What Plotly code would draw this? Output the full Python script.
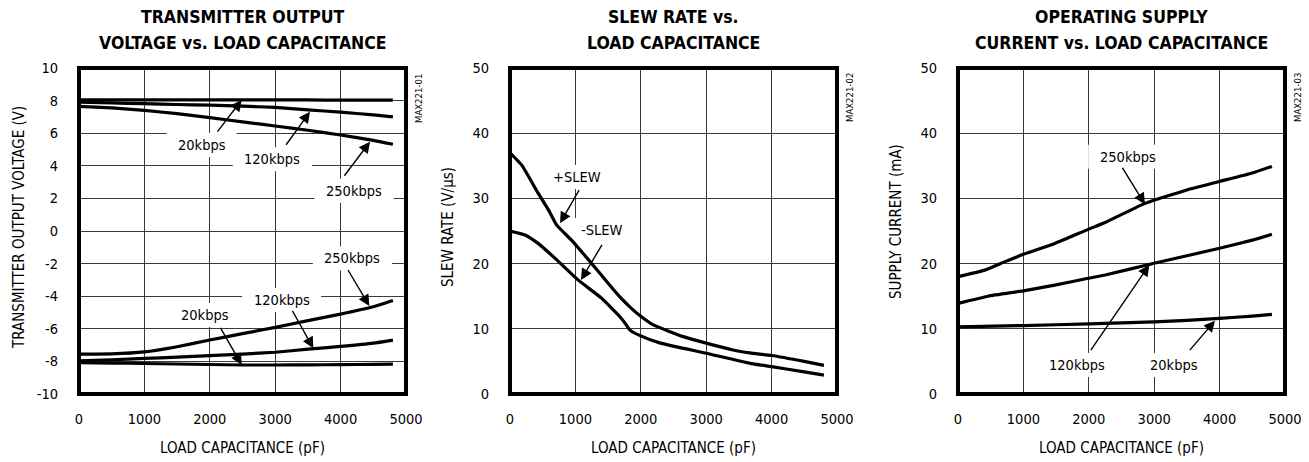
import plotly.graph_objects as go

W, H = 1309, 462

# ---------------- data ----------------
cap1 = [0, 500, 1000, 1500, 2000, 2500, 3000, 3500, 4000, 4500, 4800]
v20_pos = [8.05, 8.05, 8.05, 8.04, 8.04, 8.04, 8.04, 8.04, 8.03, 8.03, 8.03]
v120_pos = [7.90, 7.86, 7.81, 7.76, 7.72, 7.66, 7.58, 7.43, 7.29, 7.12, 7.00]
v250_pos = [7.65, 7.55, 7.40, 7.20, 6.95, 6.70, 6.44, 6.18, 5.89, 5.56, 5.32]
v250_neg = [-7.55, -7.54, -7.42, -7.10, -6.69, -6.30, -5.91, -5.50, -5.10, -4.65, -4.27]
v120_neg = [-7.96, -7.90, -7.82, -7.74, -7.65, -7.55, -7.44, -7.25, -7.08, -6.88, -6.69]
v20_neg = [-8.08, -8.10, -8.13, -8.16, -8.19, -8.22, -8.22, -8.21, -8.20, -8.18, -8.17]

cap_ps = [0, 180, 430, 590, 714, 940, 1250, 1500, 1680, 1860, 1990, 2190, 2650, 3000, 3410, 3670, 4000, 4500, 4800]
slew_pos = [37.0, 35.1, 30.8, 28.2, 25.9, 23.6, 20.0, 17.0, 14.9, 13.1, 12.0, 10.6, 8.8, 7.8, 6.75, 6.3, 5.9, 5.0, 4.4]
cap_ns = [0, 230, 430, 690, 1040, 1400, 1680, 1760, 1835, 1990, 2300, 3000, 3670, 4000, 4500, 4800]
slew_neg = [25.0, 24.4, 23.1, 20.8, 17.5, 14.7, 11.85, 10.85, 9.8, 8.95, 7.8, 6.25, 4.7, 4.2, 3.4, 2.9]

cap3_250 = [0, 410, 720, 1020, 1480, 1990, 2250, 2850, 3500, 4000, 4500, 4800]
i250 = [18.0, 19.0, 20.3, 21.5, 23.1, 25.25, 26.3, 29.2, 31.3, 32.6, 33.9, 34.9]
cap3_120 = [0, 460, 1020, 1480, 1990, 2250, 3000, 3500, 4000, 4500, 4800]
i120 = [13.9, 15.0, 15.85, 16.7, 17.75, 18.25, 20.05, 21.2, 22.35, 23.6, 24.5]
cap3_20 = [0, 1000, 2000, 2500, 3000, 3500, 4000, 4500, 4800]
i20 = [10.3, 10.5, 10.75, 10.9, 11.05, 11.3, 11.6, 11.95, 12.2]

x_ticks = [0, 1000, 2000, 3000, 4000, 5000]
y1_ticks = [-10, -8, -6, -4, -2, 0, 2, 4, 6, 8, 10]
y1_ticktext = ["-10", "-8", "-6", "-4", "-2", "0", "2", "4", "6", "8", "10"]
y23_ticks = [0, 10, 20, 30, 40, 50]

titles = [("TRANSMITTER OUTPUT", "VOLTAGE vs. LOAD CAPACITANCE"),
          ("SLEW RATE vs.", "LOAD CAPACITANCE"),
          ("OPERATING SUPPLY", "CURRENT vs. LOAD CAPACITANCE")]
ytitles = ["TRANSMITTER OUTPUT VOLTAGE (V)", "SLEW RATE (V/µs)", "SUPPLY CURRENT (mA)"]
xtitle = "LOAD CAPACITANCE (pF)"
codes = ["MAX221-01", "MAX221-02", "MAX221-03"]

# label text, text position, arrow tail, arrow head (data coords), panel
labels = [
    ("20kbps", (1876, 5.28), (2100, 6.0), (2488, 8.04), 1),
    ("120kbps", (2956, 4.40), (3150, 5.2), (3532, 7.32), 1),
    ("250kbps", (4205, 2.47), (4040, 3.3), (4450, 5.48), 1),
    ("250kbps", (4180, -1.68), (4100, -2.3), (4439, -4.60), 1),
    ("120kbps", (3099, -4.23), (3250, -4.8), (3583, -7.20), 1),
    ("20kbps", (1927, -5.15), (2150, -5.85), (2488, -8.22), 1),
    ("+SLEW", (1020, 33.3), (1070, 31.5), (765, 26.2), 2),
    ("-SLEW", (1402, 25.15), (1420, 23.1), (1086, 17.5), 2),
    ("250kbps", (2594, 36.4), (2500, 34.9), (2859, 29.1), 3),
    ("120kbps", (1815, 4.45), (2015, 6.5), (2925, 19.8), 3),
    ("20kbps", (3303, 4.45), (3525, 6.5), (3930, 11.25), 3),
]

# ---------------- layout helpers ----------------
FONT = "DejaVu Sans Condensed, Roboto Condensed, Liberation Sans Narrow, Roboto, sans-serif"
plot_left = [79, 510, 958]
plot_w = 327
top_px, bot_px = 68, 394


def xp(px):
    return px / W


def yp(py):
    return 1 - py / H


fig = go.Figure()
line = dict(color="black", width=3.2)

series = [
    (1, cap1, v20_pos), (1, cap1, v120_pos), (1, cap1, v250_pos),
    (1, cap1, v250_neg), (1, cap1, v120_neg), (1, cap1, v20_neg),
    (2, cap_ps, slew_pos), (2, cap_ns, slew_neg),
    (3, cap3_250, i250), (3, cap3_120, i120), (3, cap3_20, i20),
]
for k, xs, ys in series:
    fig.add_trace(go.Scatter(x=xs, y=ys, mode="lines", line=dict(line, shape="spline", smoothing=0.4),
                             xaxis="x" if k == 1 else f"x{k}", yaxis="y" if k == 1 else f"y{k}",
                             showlegend=False, hoverinfo="skip"))

axis_common = dict(showgrid=True, gridcolor="#3a3a3a", gridwidth=1, zeroline=False,
                   showline=False, ticks="outside", tickcolor="rgba(0,0,0,0)",
                   tickfont=dict(family=FONT, size=14.5, color="black"),
                   automargin=False, fixedrange=True)
layout = dict(width=W, height=H, margin=dict(l=0, r=0, t=0, b=0, autoexpand=False),
              paper_bgcolor="white", plot_bgcolor="white", showlegend=False)
for i in range(3):
    sfx = "" if i == 0 else str(i + 1)
    layout["xaxis" + sfx] = dict(axis_common, domain=[xp(plot_left[i]), xp(plot_left[i] + plot_w)],
                                 range=[0, 5000], tickvals=x_ticks, ticklen=12,
                                 anchor="y" + sfx)
    yt = y1_ticks if i == 0 else y23_ticks
    ytt = y1_ticktext if i == 0 else [str(v) for v in y23_ticks]
    layout["yaxis" + sfx] = dict(axis_common, domain=[yp(bot_px), yp(top_px)],
                                 range=[yt[0], yt[-1]], tickvals=yt, ticktext=ytt, ticklen=17,
                                 anchor="x" + sfx)
fig.update_layout(**layout)

shapes = []
ann = []
for i in range(3):
    sfx = "" if i == 0 else str(i + 1)
    shapes.append(dict(type="rect", xref=f"x{sfx} domain", yref=f"y{sfx} domain",
                       x0=0, x1=1, y0=0, y1=1, line=dict(color="black", width=4), layer="above"))
    cx = plot_left[i] + plot_w / 2
    for j, ty in enumerate((17, 43)):
        ann.append(dict(text="<b>" + titles[i][j] + "</b>", xref="paper", yref="paper", x=xp(cx), y=yp(ty),
                        xanchor="center", yanchor="middle", showarrow=False,
                        font=dict(family=FONT, size=17.5, color="black")))
    ann.append(dict(text=xtitle, xref="paper", yref="paper", x=xp(cx), y=yp(448),
                    xanchor="center", yanchor="middle", showarrow=False,
                    font=dict(family=FONT, size=15, color="black")))
    ann.append(dict(text=codes[i], xref="paper", yref="paper",
                    x=xp(plot_left[i] + plot_w + 12), y=yp(98), textangle=-90,
                    xanchor="center", yanchor="middle", showarrow=False,
                    font=dict(family=FONT, size=9.5, color="black")))
ytitle_pos = [(19, 228), (448, 227), (896, 222)]
for i in range(3):
    ann.append(dict(text=ytitles[i], xref="paper", yref="paper", x=xp(ytitle_pos[i][0]),
                    y=yp(ytitle_pos[i][1]), textangle=-90, xanchor="center", yanchor="middle",
                    showarrow=False, font=dict(family=FONT, size=15, color="black")))

for txt, tpos, tail, head, k in labels:
    xr = "x" if k == 1 else f"x{k}"
    yr = "y" if k == 1 else f"y{k}"
    half = 4.5 * len(txt) + 8
    # white box interrupting the grid lines only (drawn between grid and traces)
    shapes.append(dict(type="rect", xref=xr, yref=yr, xsizemode="pixel", ysizemode="pixel",
                       xanchor=tpos[0], yanchor=tpos[1], x0=-half, x1=half, y0=-12, y1=12,
                       fillcolor="white", line=dict(width=0), layer="between"))
    ann.append(dict(text=txt, xref=xr, yref=yr, x=tpos[0], y=tpos[1], showarrow=False,
                    font=dict(family=FONT, size=14.5, color="black")))
for txt, tpos, tail, head, k in labels:
    xr = "x" if k == 1 else f"x{k}"
    yr = "y" if k == 1 else f"y{k}"
    ann.append(dict(text="", xref=xr, yref=yr, x=head[0], y=head[1], axref=xr, ayref=yr,
                    ax=tail[0], ay=tail[1], showarrow=True, arrowhead=2, arrowsize=1.6,
                    arrowwidth=1.4, arrowcolor="black", standoff=0))

fig.update_layout(shapes=shapes, annotations=ann)
fig.write_html("out.html", config={"displayModeBar": False},
               post_script="document.body.style.margin='0';document.body.style.overflow='hidden';")
